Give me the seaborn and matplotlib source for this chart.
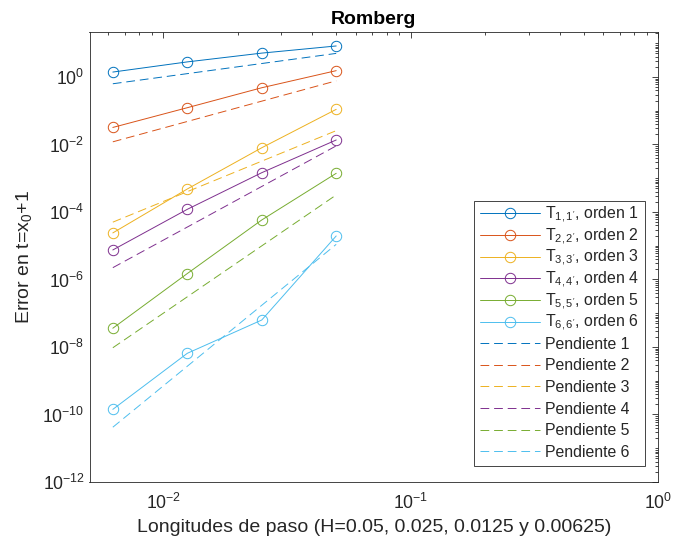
import types
import numpy as np
import pandas as pd
import matplotlib
matplotlib.use("Agg")
import matplotlib.pyplot as plt
import matplotlib.ticker as mticker
from matplotlib.offsetbox import TextArea
from matplotlib.transforms import Bbox
import seaborn as sns

# Step sizes and Romberg errors at t = x0 + 1
h = [0.00625, 0.0125, 0.025, 0.05]
err_T11 = [1.4, 2.8, 5.1, 8.3]
err_T22 = [0.032, 0.123, 0.48, 1.54]
err_T33 = [2.4e-5, 4.8e-4, 8.0e-3, 0.110]
err_T44 = [7.5e-6, 1.2e-4, 1.46e-3, 0.0136]
err_T55 = [3.6e-8, 1.5e-6, 5.8e-5, 1.4e-3]
err_T66 = [1.42e-10, 6.5e-9, 6.3e-8, 1.95e-5]

# Reference slope lines, values at the smallest and largest step
h_ends = [0.00625, 0.05]
slope_1 = [0.63, 5.0]
slope_2 = [0.012, 0.77]
slope_3 = [5.0e-5, 0.0257]
slope_4 = [2.24e-6, 9.1e-3]
slope_5 = [9.5e-9, 3.2e-4]
slope_6 = [4.2e-11, 1.1e-5]

err_labels = ["T$_{1,1'}$, orden 1", "T$_{2,2'}$, orden 2", "T$_{3,3'}$, orden 3",
              "T$_{4,4'}$, orden 4", "T$_{5,5'}$, orden 5", "T$_{6,6'}$, orden 6"]
slope_labels = ["Pendiente 1", "Pendiente 2", "Pendiente 3",
                "Pendiente 4", "Pendiente 5", "Pendiente 6"]

colors = ["#0072BD", "#D95319", "#EDB120", "#7E2F8E", "#77AC30", "#4DBEEE"]

sns.set_style("white")
plt.rcParams["font.family"] = ["Liberation Sans", "DejaVu Sans"]
plt.rcParams["mathtext.fontset"] = "custom"
plt.rcParams["mathtext.rm"] = "Liberation Sans"
plt.rcParams["mathtext.it"] = "Liberation Sans:italic"
plt.rcParams["mathtext.bf"] = "Liberation Sans:bold"
plt.rcParams["axes.unicode_minus"] = False

ink = "#262626"
fig = plt.figure(figsize=(6.74, 5.4), dpi=100)
ax = fig.add_axes([89.5 / 674, 58 / 540, (658 - 89.5) / 674, (482 - 32) / 540])

errs = [err_T11, err_T22, err_T33, err_T44, err_T55, err_T66]
slopes = [slope_1, slope_2, slope_3, slope_4, slope_5, slope_6]

lw = 0.7
dash = (0, (9, 5))
for e, c, lab in zip(errs, colors, err_labels):
    df = pd.DataFrame({"h": h, "err": e})
    sns.lineplot(data=df, x="h", y="err", ax=ax, color=c, lw=lw, marker="o",
                 markersize=7.5, markerfacecolor="none", markeredgecolor=c,
                 markeredgewidth=lw, label=lab, sort=False)
for s, c, lab in zip(slopes, colors, slope_labels):
    df = pd.DataFrame({"h": h_ends, "err": s})
    sns.lineplot(data=df, x="h", y="err", ax=ax, color=c, lw=lw,
                 linestyle=dash, label=lab, sort=False)

ax.set_xscale("log")
ax.set_yscale("log")
ax.set_xlim(0.00503, 1.0)
ax.set_ylim(1e-12, 10 ** 1.333)

ax.yaxis.set_major_locator(mticker.FixedLocator([10.0 ** k for k in range(-12, 1, 2)]))
ax.yaxis.set_minor_locator(mticker.LogLocator(base=10, subs=np.arange(1, 10), numticks=40))
ax.yaxis.set_major_formatter(mticker.LogFormatterSciNotation())
ax.yaxis.set_minor_formatter(mticker.NullFormatter())
ax.xaxis.set_major_locator(mticker.FixedLocator([1e-2, 1e-1, 1e0]))
ax.xaxis.set_minor_locator(mticker.LogLocator(base=10, subs=np.arange(2, 10), numticks=20))
ax.xaxis.set_minor_formatter(mticker.NullFormatter())

for sp in ax.spines.values():
    sp.set_visible(True)
    sp.set_color(ink)
    sp.set_linewidth(0.6)
ax.tick_params(which="both", direction="in", top=True, right=True, color=ink,
               width=0.6, labelcolor=ink, labelsize=12.7)
ax.tick_params(which="major", length=4.5)
ax.tick_params(which="minor", length=2.5)
ax.tick_params(axis="x", pad=8)

ax.set_xlabel("Longitudes de paso (H=0.05, 0.025, 0.0125 y 0.00625)",
              fontsize=14, color=ink, labelpad=4)
ax.set_ylabel("Error en t=x$_0$+1", fontsize=14, color=ink, labelpad=6)
ax.set_title("Romberg", fontsize=14, fontweight="bold", color="black", pad=6)

leg = ax.legend(loc="lower right", bbox_to_anchor=(645 / 674, 74 / 540),
                bbox_transform=fig.transFigure, borderaxespad=0,
                fontsize=11.4, frameon=True, fancybox=False, framealpha=1,
                edgecolor=ink, handlelength=3.8, handletextpad=0.35,
                labelspacing=0.42, borderpad=0.38)
leg.get_frame().set_linewidth(0.6)
for t in leg.get_texts():
    t.set_color(ink)
# Keep each legend sample in its series colour
for handle, c in zip(leg.legend_handles, colors + colors):
    handle.set_color(c)


# Give every legend row the same height, whether or not its label has subscripts
def _uniform_bbox(self, renderer, _orig=TextArea.get_bbox):
    bb = _orig(self, renderer)
    _, hh, dd = renderer.get_text_width_height_descent(
        "lp", self._text._fontproperties, ismath=False)
    return Bbox.from_bounds(bb.x0, -dd, bb.width, hh)


def _text_areas(box):
    for child in box.get_children():
        if isinstance(child, TextArea):
            yield child
        elif hasattr(child, "get_children"):
            yield from _text_areas(child)


for ta in _text_areas(leg._legend_handle_box):
    ta.get_bbox = types.MethodType(_uniform_bbox, ta)

fig.savefig("out.png", dpi=100)
